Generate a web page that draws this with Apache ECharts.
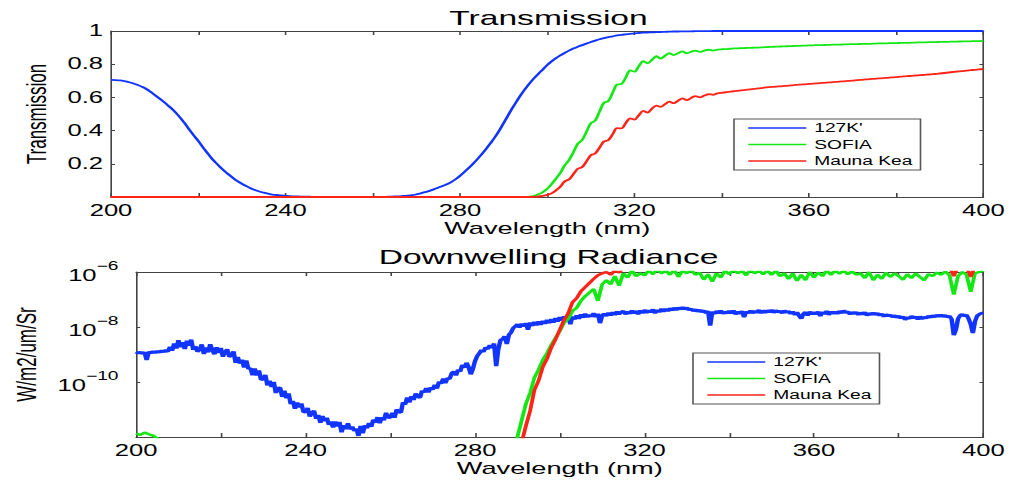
<!DOCTYPE html>
<html>
<head>
<meta charset="UTF-8">
<title>Transmission / Downwelling Radiance</title>
<script src="https://cdn.jsdelivr.net/npm/echarts@6/dist/echarts.min.js"></script>
<style>
    html, body { margin: 0; padding: 0; background: #fff; overflow: hidden; }
    /* the original figure is stretched sideways, so the chart is drawn narrow and widened */
    #chart { width: 631.25px; height: 480px; transform: scaleX(1.6); transform-origin: 0 0; }
</style>
</head>
<body>
<div id="chart"></div>
<script>
// wavelength grids: 1 nm for transmission, 0.5 nm for the noisy 127K' radiance
var wl = [];
for (var w = 200; w <= 400; w++) wl.push(w);
var wlFine = [];
for (var k = 0; k <= 400; k++) wlFine.push(200 + k / 2);

var seriesNames = ["127K'", 'SOFIA', 'Mauna Kea'];

// transmission, one value per nm from 200 to 400
var trans127 = [
    .705,.704,.702,.698,.692,.685,.676,.665,.652,.635,
    .615,.596,.575,.553,.530,.504,.474,.440,.404,.370,
    .338,.302,.268,.235,.207,.181,.157,.135,.114,.095,
    .080,.066,.053,.042,.033,.026,.020,.015,.012,.009,
    .007,.005,.004,.003,.002,.002,.001,.001,.001,0,
    0,0,0,0,0,0,0,0,0,0,
    0,0,.001,.001,.002,.003,.004,.006,.008,.011,
    .016,.022,.029,.037,.046,.056,.066,.077,.090,.107,
    .127,.150,.174,.200,.228,.258,.290,.324,.360,.400,
    .445,.490,.535,.577,.617,.653,.686,.716,.743,.768,
    .795,.817,.836,.853,.868,.882,.894,.905,.915,.924,
    .934,.942,.950,.957,.963,.968,.973,.977,.980,.983,
    .986,.988,.990,.991,.992,.993,.994,.995,.996,.997,
    .997,.998,.998,.998,.999,.999,.999,.999,1,1,
    1,1,1,1,1,1,1,1,1,1,
    1,1,1,1,1,1,1,1,1,1,
    1,1,1,1,1,1,1,1,1,1,
    1,1,1,1,1,1,1,1,1,1,
    1,1,1,1,1,1,1,1,1,1,
    1,1,1,1,1,1,1,1,1,1,
    1
];
var transSofia = [
    0,0,0,0,0,0,0,0,0,0,
    0,0,0,0,0,0,0,0,0,0,
    0,0,0,0,0,0,0,0,0,0,
    0,0,0,0,0,0,0,0,0,0,
    0,0,0,0,0,0,0,0,0,0,
    0,0,0,0,0,0,0,0,0,0,
    0,0,0,0,0,0,0,0,0,0,
    0,0,0,0,0,0,0,0,0,0,
    0,0,0,0,0,0,0,0,0,0,
    0,0,0,0,0,.001,.002,.007,.016,.030,
    .050,.078,.110,.145,.190,.222,.270,.322,.343,.393,
    .445,.460,.515,.568,.578,.628,.678,.680,.720,.762,
    .755,.788,.818,.805,.826,.848,.834,.851,.866,.855,
    .866,.877,.866,.875,.882,.874,.882,.887,.882,.888,
    .890,.891,.893,.895,.896,.897,.898,.899,.900,.901,
    .903,.904,.905,.906,.907,.908,.909,.910,.911,.912,
    .913,.914,.915,.915,.916,.917,.918,.918,.919,.920,
    .921,.921,.922,.923,.923,.924,.925,.925,.926,.927,
    .927,.928,.929,.929,.930,.931,.931,.932,.933,.933,
    .934,.935,.935,.936,.936,.937,.938,.938,.939,.939,
    .940
];
var transMauna = [
    0,0,0,0,0,0,0,0,0,0,
    0,0,0,0,0,0,0,0,0,0,
    0,0,0,0,0,0,0,0,0,0,
    0,0,0,0,0,0,0,0,0,0,
    0,0,0,0,0,0,0,0,0,0,
    0,0,0,0,0,0,0,0,0,0,
    0,0,0,0,0,0,0,0,0,0,
    0,0,0,0,0,0,0,0,0,0,
    0,0,0,0,0,0,0,0,0,0,
    0,0,0,0,0,0,0,.001,.003,.007,
    .013,.022,.040,.062,.094,.106,.138,.170,.180,.215,
    .252,.262,.298,.335,.342,.378,.415,.413,.445,.474,
    .466,.493,.519,.508,.532,.550,.543,.559,.574,.565,
    .580,.594,.584,.597,.608,.600,.611,.619,.616,.624,
    .628,.631,.635,.638,.641,.644,.647,.650,.653,.656,
    .660,.662,.664,.666,.668,.670,.672,.675,.677,.679,
    .681,.683,.685,.687,.689,.691,.693,.695,.697,.699,
    .701,.704,.706,.708,.710,.712,.714,.716,.718,.720,
    .722,.725,.727,.729,.731,.733,.735,.737,.739,.741,
    .744,.747,.750,.753,.756,.758,.761,.764,.766,.769,
    .771
];

// downwelling radiance as log10(W/m2/um/Sr)
// 127K': one value per 0.5 nm (200 .. 400)
var rad127Log = [
    -8.91,-8.96,-8.91,-8.97,-8.92,-9.20,-8.90,-8.95,-8.89,-8.94,
    -8.88,-8.93,-8.86,-8.91,-8.84,-8.90,-8.72,-8.86,-8.60,-8.78,
    -8.48,-8.73,-8.56,-8.80,-8.50,-8.68,-8.46,-8.83,-8.70,-8.90,
    -8.82,-8.63,-8.98,-8.75,-8.92,-8.63,-8.84,-8.99,-8.74,-8.94,
    -8.76,-9.08,-8.91,-8.81,-9.08,-9.03,-8.89,-9.30,-9.09,-9.33,
    -9.19,-9.47,-9.22,-9.52,-9.50,-9.75,-9.51,-9.76,-9.58,-9.92,
    -9.89,-9.74,-10.12,-9.96,-10.18,-10.00,-10.40,-10.22,-10.21,-10.54,
    -10.32,-10.59,-10.42,-10.80,-10.69,-10.97,-10.75,-10.92,-10.78,-11.08,
    -11.10,-10.94,-11.26,-11.12,-11.04,-11.34,-11.20,-11.48,-11.24,-11.42,
    -11.30,-11.55,-11.44,-11.65,-11.44,-11.61,-11.45,-11.83,-11.57,-11.71,
    -11.50,-11.72,-11.62,-11.78,-11.70,-11.96,-11.60,-11.86,-11.58,-11.68,
    -11.49,-11.63,-11.37,-11.47,-11.28,-11.50,-11.28,-11.39,-11.12,-11.29,
    -11.30,-11.12,-11.30,-11.00,-11.09,-11.11,-10.74,-10.82,-10.56,-10.74,
    -10.52,-10.65,-10.42,-10.54,-10.57,-10.32,-10.38,-10.22,-10.38,-10.20,
    -10.28,-10.10,-10.24,-9.99,-10.06,-9.88,-10.04,-9.86,-9.89,-9.68,
    -9.62,-9.76,-9.56,-9.62,-9.38,-9.48,-9.30,-9.46,-9.72,-9.52,
    -9.24,-9.06,-8.96,-8.84,-8.90,-8.74,-8.80,-8.66,-8.76,-8.60,
    -9.42,-8.80,-8.48,-8.44,-8.34,-8.62,-8.28,-8.20,-8.04,-7.98,
    -7.90,-8.02,-7.88,-7.98,-7.86,-8.10,-7.84,-7.96,-7.82,-7.94,
    -7.80,-7.92,-7.78,-7.88,-7.74,-7.86,-7.72,-7.84,-7.68,-7.80,
    -7.64,-7.76,-7.62,-7.74,-7.60,-7.90,-7.62,-7.72,-7.58,-7.70,
    -7.54,-7.66,-7.52,-7.64,-7.56,-7.62,-7.50,-7.64,-7.52,-7.86,
    -7.58,-7.52,-7.60,-7.48,-7.58,-7.46,-7.56,-7.44,-7.54,-7.46,
    -7.42,-7.54,-7.44,-7.52,-7.40,-7.50,-7.42,-7.54,-7.40,-7.50,
    -7.38,-7.48,-7.40,-7.46,-7.36,-7.50,-7.38,-7.46,-7.34,-7.44,
    -7.34,-7.42,-7.32,-7.40,-7.30,-7.38,-7.30,-7.36,-7.28,-7.36,
    -7.30,-7.38,-7.34,-7.42,-7.36,-7.44,-7.38,-7.46,-7.40,-7.50,
    -7.42,-7.95,-7.44,-7.52,-7.42,-7.50,-7.40,-7.52,-7.44,-7.50,
    -7.42,-7.50,-7.40,-7.54,-7.44,-7.52,-7.42,-7.64,-7.44,-7.50,
    -7.40,-7.50,-7.42,-7.48,-7.38,-7.50,-7.40,-7.48,-7.40,-7.46,
    -7.38,-7.48,-7.40,-7.46,-7.42,-7.50,-7.40,-7.48,-7.42,-7.52,
    -7.44,-7.56,-7.46,-7.60,-7.70,-7.52,-7.46,-7.58,-7.44,-7.54,
    -7.46,-7.54,-7.44,-7.60,-7.46,-7.52,-7.42,-7.56,-7.44,-7.52,
    -7.44,-7.52,-7.42,-7.50,-7.40,-7.48,-7.44,-7.54,-7.46,-7.52,
    -7.46,-7.56,-7.48,-7.54,-7.46,-7.58,-7.50,-7.56,-7.48,-7.56,
    -7.50,-7.58,-7.52,-7.62,-7.54,-7.60,-7.56,-7.64,-7.58,-7.66,
    -7.60,-7.68,-7.62,-7.74,-7.64,-7.70,-7.60,-7.68,-7.62,-7.72,
    -7.62,-7.70,-7.64,-7.68,-7.60,-7.66,-7.58,-7.64,-7.56,-7.62,
    -7.56,-7.62,-7.58,-7.64,-7.60,-7.72,-8.30,-8.10,-7.70,-7.58,
    -7.54,-7.60,-7.56,-7.70,-7.90,-8.22,-7.80,-7.60,-7.54,-7.50,
    -7.48
];
// SOFIA and Mauna Kea: one value per nm; null = far below the axis
var radSofiaLog = [
    -11.88,-11.92,-11.84,-11.90,-11.95,-12.05,-12.6,-13.5,null,null,
    null,null,null,null,null,null,null,null,null,null,
    null,null,null,null,null,null,null,null,null,null,
    null,null,null,null,null,null,null,null,null,null,
    null,null,null,null,null,null,null,null,null,null,
    null,null,null,null,null,null,null,null,null,null,
    null,null,null,null,null,null,null,null,null,null,
    null,null,null,null,null,null,null,null,null,null,
    null,null,null,null,null,null,null,null,null,-13.0,
    -12.0,-11.4,-10.8,-10.4,-9.85,-9.55,-9.2,-8.95,-8.65,-8.4,
    -8.15,-7.85,-7.70,-7.42,-7.30,-7.05,-6.88,-6.75,-6.62,-7.05,
    -6.45,-6.30,-6.45,-6.15,-6.50,-6.05,-6.20,-5.95,-6.15,-6.05,
    -6.12,-5.95,-6.08,-5.90,-6.05,-5.95,-6.10,-5.92,-6.18,-5.95,
    -6.05,-5.92,-6.10,-6.02,-6.28,-6.08,-6.35,-6.05,-6.20,-5.95,
    -6.08,-5.92,-6.05,-5.95,-6.12,-5.92,-6.05,-5.95,-6.08,-5.95,
    -6.10,-5.95,-6.15,-6.05,-6.25,-6.05,-6.32,-6.10,-6.30,-6.00,
    -6.20,-6.02,-6.15,-5.95,-6.10,-5.95,-6.06,-5.95,-6.08,-5.98,
    -6.10,-6.05,-6.22,-6.00,-6.30,-6.10,-6.25,-6.02,-6.18,-6.05,
    -6.15,-6.28,-6.08,-6.22,-6.05,-6.18,-6.30,-6.08,-6.15,-6.02,
    -6.10,-5.98,-6.12,-6.82,-6.15,-6.00,-6.10,-6.72,-6.05,-6.00,
    -5.95
];
var radMaunaLog = [
    null,null,null,null,null,null,null,null,null,null,
    null,null,null,null,null,null,null,null,null,null,
    null,null,null,null,null,null,null,null,null,null,
    null,null,null,null,null,null,null,null,null,null,
    null,null,null,null,null,null,null,null,null,null,
    null,null,null,null,null,null,null,null,null,null,
    null,null,null,null,null,null,null,null,null,null,
    null,null,null,null,null,null,null,null,null,null,
    null,null,null,null,null,null,null,null,null,null,
    -13.0,-12.2,-11.6,-11.05,-10.3,-9.95,-9.45,-9.15,-8.75,-8.45,
    -8.10,-7.75,-7.50,-7.10,-6.95,-6.70,-6.55,-6.40,-6.25,-6.12,
    -6.05,-6.00,-6.10,-5.95,-6.02,-5.85,-5.80,-5.80,-5.80,-5.80,
    -5.80,-5.80,-5.80,-5.80,-5.80,-5.80,-5.80,-5.80,-5.80,-5.80,
    -5.80,-5.80,-5.80,-5.80,-5.80,-5.80,-5.80,-5.80,-5.80,-5.80,
    -5.80,-5.80,-5.80,-5.80,-5.80,-5.80,-5.80,-5.80,-5.80,-5.80,
    -5.80,-5.80,-5.80,-5.80,-5.80,-5.80,-5.80,-5.80,-5.80,-5.80,
    -5.80,-5.80,-5.80,-5.80,-5.80,-5.80,-5.80,-5.80,-5.80,-5.80,
    -5.80,-5.80,-5.80,-5.80,-5.80,-5.80,-5.80,-5.80,-5.80,-5.80,
    -5.80,-5.80,-5.80,-5.80,-5.80,-5.80,-5.80,-5.80,-5.80,-5.80,
    -5.80,-5.80,-5.80,-6.15,-5.80,-5.80,-5.80,-6.18,-5.80,-5.80,
    -5.80
];

var SX = 1.6;                       // horizontal stretch of the figure
function px(v) { return v / SX; }   // page px -> chart px (horizontal only)

var font = "'Liberation Sans', Arial, sans-serif";
var frame = '#444';
var colors = ['#1234ff', '#14e814', '#ff2418'];

function pairs(xs, ys) {
    return xs.map(function (x, i) { return [x, ys[i]]; });
}

function xAxisDef(grid, bottom) {
    return {
        type: 'value', gridIndex: grid, position: bottom ? 'bottom' : 'top',
        min: 200, max: 400, interval: 20,
        name: bottom ? 'Wavelength (nm)' : '',
        nameLocation: 'middle', nameGap: 23,
        nameTextStyle: { fontSize: 17, fontFamily: font, color: '#000' },
        axisLine: { show: true, onZero: false, lineStyle: { color: frame, width: 1 } },
        axisTick: { show: true, inside: true, length: 4, lineStyle: { color: frame } },
        axisLabel: {
            show: bottom, margin: 6, fontSize: 16, fontFamily: font, color: '#000',
            formatter: function (v) { return v % 40 === 0 ? String(v) : ''; }
        },
        splitLine: { show: false }
    };
}

function yAxisDef(grid, left, opts) {
    return {
        type: 'value', gridIndex: grid, position: left ? 'left' : 'right',
        min: opts.min, max: opts.max, interval: opts.interval,
        name: left ? opts.name : '',
        nameLocation: 'middle', nameGap: opts.nameGap, nameRotate: 90,
        nameTextStyle: { fontSize: 17, fontFamily: font, color: '#000' },
        axisLine: { show: true, onZero: false, lineStyle: { color: frame, width: 1 } },
        axisTick: { show: true, inside: true, length: 2.5, lineStyle: { color: frame } },
        axisLabel: { show: left, margin: opts.margin, fontSize: 16, fontFamily: font, color: '#000',
                     formatter: opts.formatter, rich: opts.rich },
        splitLine: { show: false }
    };
}

var transY = {
    min: 0, max: 1, interval: 0.2, name: 'Transmission', nameGap: 38, margin: 5,
    formatter: function (v) { return v === 0 ? '' : String(+v.toFixed(1)); }
};
var radY = {
    min: -12, max: -6, interval: 2, name: 'W/m2/um/Sr', nameGap: 47, margin: 11,
    formatter: function (v) {
        return v === -12 ? '' : '{b|10}{e|\u2212' + Math.abs(v) + '}';
    },
    rich: {
        b: { fontSize: 16, fontFamily: font, color: '#000', lineHeight: 24, verticalAlign: 'bottom' },
        e: { fontSize: 12, fontFamily: font, color: '#000', lineHeight: 24, verticalAlign: 'top' }
    }
};

function legendDef(left, top) {
    return {
        data: seriesNames, orient: 'vertical', left: px(left), top: top,
        itemWidth: px(58), itemHeight: 12, itemGap: 4.5,
        padding: [3, 5, 3, px(13)],
        backgroundColor: '#fff', borderColor: '#555', borderWidth: 1, borderRadius: 0,
        itemStyle: { opacity: 0 },
        lineStyle: { width: 1.6 },
        textStyle: { fontSize: 12, fontFamily: font, color: '#000' },
        selectedMode: false
    };
}

function lineSeries(i, xi, yi, data, width, smooth) {
    return {
        name: seriesNames[i], type: 'line', xAxisIndex: xi, yAxisIndex: yi,
        data: data, showSymbol: false, symbol: 'none', connectNulls: false,
        smooth: smooth || false,
        lineStyle: { color: colors[i], width: width }, itemStyle: { color: colors[i] },
        clip: true, z: 3 + i
    };
}

var chart = echarts.init(document.getElementById('chart'), null, { renderer: 'svg' });

var option = {
    animation: false,
    backgroundColor: '#fff',
    grid: [
        { left: px(111), right: px(24), top: 31, height: 166 },
        { left: px(111), right: px(24), top: 272, height: 165 }
    ],
    graphic: [
        { type: 'text', x: px(548.5), y: 7,
          style: { text: 'Transmission', textAlign: 'center', align: 'center', textVerticalAlign: 'top', verticalAlign: 'top',
                   fontSize: 21, fontFamily: font, fill: '#000' } },
        { type: 'text', x: px(548.5), y: 246,
          style: { text: 'Downwelling Radiance', textAlign: 'center', align: 'center', textVerticalAlign: 'top', verticalAlign: 'top',
                   fontSize: 21, fontFamily: font, fill: '#000' } }
    ],
    legend: [legendDef(734, 119), legendDef(693, 353)],
    xAxis: [xAxisDef(0, true), xAxisDef(0, false), xAxisDef(1, true), xAxisDef(1, false)],
    yAxis: [yAxisDef(0, true, transY), yAxisDef(0, false, transY),
            yAxisDef(1, true, radY), yAxisDef(1, false, radY)],
    series: [
        lineSeries(0, 0, 0, pairs(wl, trans127), 1.8, 0.4),
        lineSeries(1, 0, 0, pairs(wl, transSofia), 1.8, 0.3),
        lineSeries(2, 0, 0, pairs(wl, transMauna), 1.8, 0.3),
        lineSeries(0, 2, 2, pairs(wlFine, rad127Log), 2.8),
        lineSeries(1, 2, 2, pairs(wl, radSofiaLog), 2.4),
        lineSeries(2, 2, 2, pairs(wl, radMaunaLog), 2.4)
    ]
};

chart.setOption(option);
</script>
</body>
</html>
